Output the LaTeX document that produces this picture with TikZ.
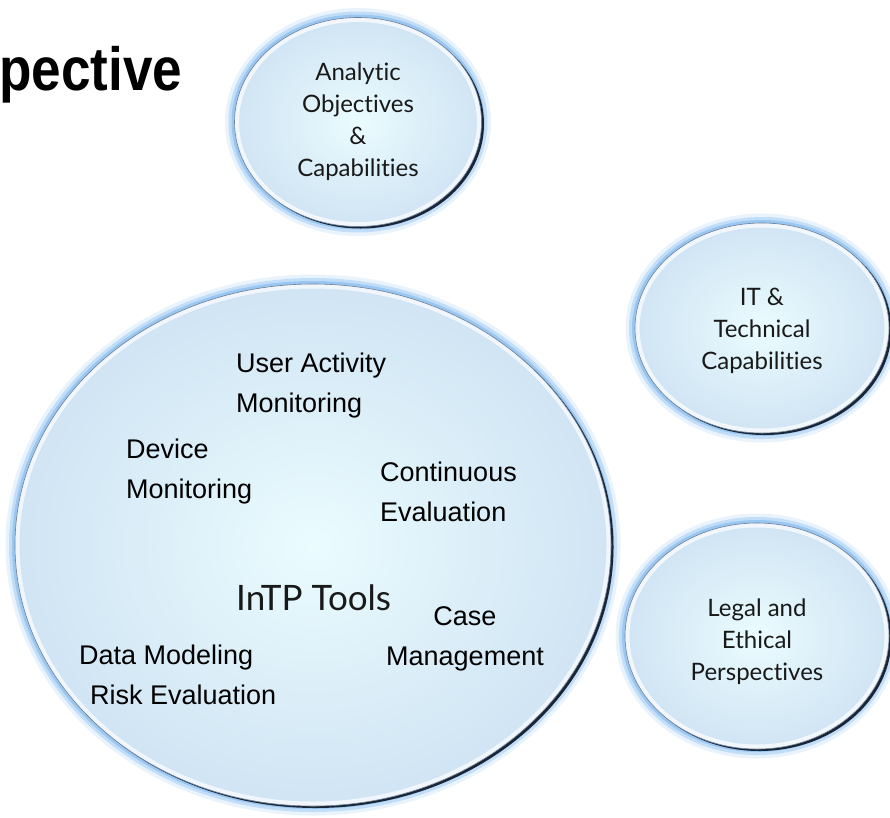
\documentclass[tikz,border=0pt]{standalone}
\usepackage{graphicx}
\usepackage{fontspec}
\setmainfont{Liberation Sans}
\newfontfamily\gillfont[Ligatures=NoCommon]{Lato}
\usetikzlibrary{shapes.geometric,positioning}
\definecolor{glowblue}{RGB}{105,172,236}
\definecolor{rimdark}{RGB}{26,38,54}
\definecolor{bubblein}{RGB}{234,252,254}
\definecolor{bubbleout}{RGB}{208,228,244}
\definecolor{bubbleline}{RGB}{105,125,148}
\tikzset
{
  bubble/.style 2 args = {ellipse, inner sep=0pt, align=center, minimum width=2*#1, minimum height=2*#2,
    draw=bubbleline, line width=0.6pt, inner color=bubblein, outer color=bubbleout,
    preaction={draw=glowblue, line width=19pt, opacity=0.15},
    preaction={draw=glowblue, line width=12pt, opacity=0.3},
    preaction={draw=glowblue, line width=6pt, opacity=0.45},
    preaction={fill=rimdark, transform canvas={shift={(2.5pt,-2pt)}}},
    path picture={\draw[white, line width=9pt, opacity=0.7] (path picture bounding box.center) ellipse [x radius=#1, y radius=#2];}},
  bubbletext/.style = {font=\gillfont\fontsize{24}{32}\selectfont, text=black!90},
  tooltext/.style   = {inner sep=0pt, align=left, font=\fontsize{27}{40}\selectfont}
}

\begin{document}
\begin{tikzpicture}[x=1pt,y=-1pt]
  \useasboundingbox (0,0) rectangle (890,817);
  \clip (0,0) rectangle (890,817);
  \node (title) [anchor=base west, inner sep=0pt] at (-1,90) {\scalebox{0.87}[1]{\fontsize{61}{61}\selectfont\bfseries pective}};
  % the four bubbles
  \node (analytic) [bubble={123.5pt}{104.5pt}, bubbletext] at (358,122) {Analytic\\Objectives\\\&\\Capabilities};
  \node (tech) [bubble={127pt}{105pt}, bubbletext] at (762,328) {\rule{0pt}{24pt}IT \&\\Technical\\Capabilities};
  \node (legal) [bubble={132pt}{113pt}, bubbletext] at (757,636) {\rule{0pt}{30pt}Legal and\\Ethical\\Perspectives};
  \node (tools) [bubble={298pt}{261pt}] at (313,545) {};
  % tools inside the big bubble (base = last line)
  \node (uam) [tooltext, anchor=base west] at (236,412) {User Activity\\Monitoring};
  \node (device) [tooltext, anchor=base west] at (126,498) {Device\\Monitoring};
  \node (ceval) [tooltext, anchor=base west] at (380,521) {Continuous\\Evaluation};
  \node (intp) [inner sep=0pt, anchor=base west, font=\gillfont\fontsize{35}{35}\selectfont, text=black!90] at (236,610) {InTP Tools};
  \node (casemgmt) [tooltext, align=center, anchor=base] at (465,665) {Case\\Management};
  \node (datamod) [tooltext, anchor=base west] at (79,704) {Data Modeling\\\hspace*{11pt}Risk Evaluation};
\end{tikzpicture}
\end{document}
